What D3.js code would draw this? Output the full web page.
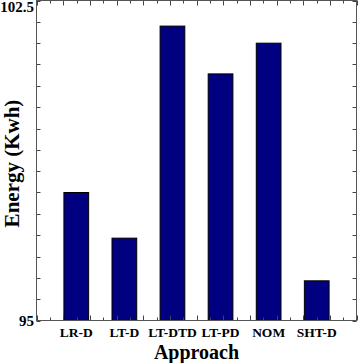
<!DOCTYPE html>
<html>
<head>
<meta charset="utf-8">
<script src="https://cdn.jsdelivr.net/npm/d3@7/dist/d3.min.js"></script>
<style>
  html, body { margin: 0; padding: 0; background: #fff; }
  svg { display: block; }
  text { font-family: "Liberation Serif", "Times New Roman", serif; font-weight: bold; fill: #000; }
</style>
</head>
<body>
<svg id="chart" width="358" height="363"></svg>
<script>
const categories = ["LR-D", "LT-D", "LT-DTD", "LT-PD", "NOM", "SHT-D"];
const energy = [98.0, 96.93, 101.9, 100.78, 101.5, 95.93];
const yTickLabels = [95, 102.5];
const yDomain = [95, 102.5];
const xTitle = "Approach";
const yTitle = "Energy (Kwh)";

const svg = d3.select("#chart");
const L = 36.5, R = 356.5, T = 0.5, B = 320.5;

const x = d3.scaleBand().domain(categories).range([L, R])
  .paddingInner(0.486).paddingOuter(0.57);
const y = d3.scaleLinear().domain(yDomain).range([B, T]);

// bars
svg.append("g").selectAll("rect").data(categories).join("rect")
  .attr("x", d => x(d))
  .attr("y", (d, i) => y(energy[i]))
  .attr("width", x.bandwidth())
  .attr("height", (d, i) => y(yDomain[0]) - y(energy[i]))
  .attr("fill", "#000080")
  .attr("stroke", "#000")
  .attr("stroke-width", 1);

// minor ticks
const tickColor = "#444";
const yMinor = d3.range(yDomain[0], yDomain[1] + 0.001, 0.5);
const tg = svg.append("g").attr("stroke", tickColor).attr("stroke-width", 1);
yMinor.forEach(v => {
  const yy = Math.round(y(v)) + 0.5;
  tg.append("line").attr("x1", L).attr("x2", L + 4).attr("y1", yy).attr("y2", yy);
  tg.append("line").attr("x1", R - 4).attr("x2", R).attr("y1", yy).attr("y2", yy);
});
const xt = d3.scaleLinear().domain([0, 24]).range([L, R]);
d3.range(0, 25).forEach(k => {
  const xx = Math.round(xt(k)) + 0.5;
  const len = k % 2 === 0 ? 5 : 3;
  tg.append("line").attr("x1", xx).attr("x2", xx).attr("y1", B).attr("y2", B - len);
  tg.append("line").attr("x1", xx).attr("x2", xx).attr("y1", T).attr("y2", T + len);
});

// frame
svg.append("rect").attr("x", L).attr("y", T).attr("width", R - L).attr("height", B - T)
  .attr("fill", "none").attr("stroke", "#555").attr("stroke-width", 1);

// y tick labels
svg.append("g").selectAll("text").data(yTickLabels).join("text")
  .attr("x", 34)
  .attr("y", d => Math.min(Math.max(y(d), 7), B))
  .attr("dy", "0.35em")
  .attr("text-anchor", "end")
  .attr("font-size", 15)
  .text(d => d);

// x category labels
svg.append("g").selectAll("text").data(categories).join("text")
  .attr("x", d => x(d) + x.bandwidth() / 2)
  .attr("y", 337)
  .attr("text-anchor", "middle")
  .attr("font-size", 13.5)
  .text(d => d);

// axis titles
svg.append("text").attr("x", (L + R) / 2).attr("y", 359)
  .attr("text-anchor", "middle").attr("font-size", 20).text(xTitle);
svg.append("text").attr("transform", `translate(19,${(T + B) / 2 + 3}) rotate(-90)`)
  .attr("text-anchor", "middle").attr("font-size", 21).text(yTitle);
</script>
</body>
</html>
